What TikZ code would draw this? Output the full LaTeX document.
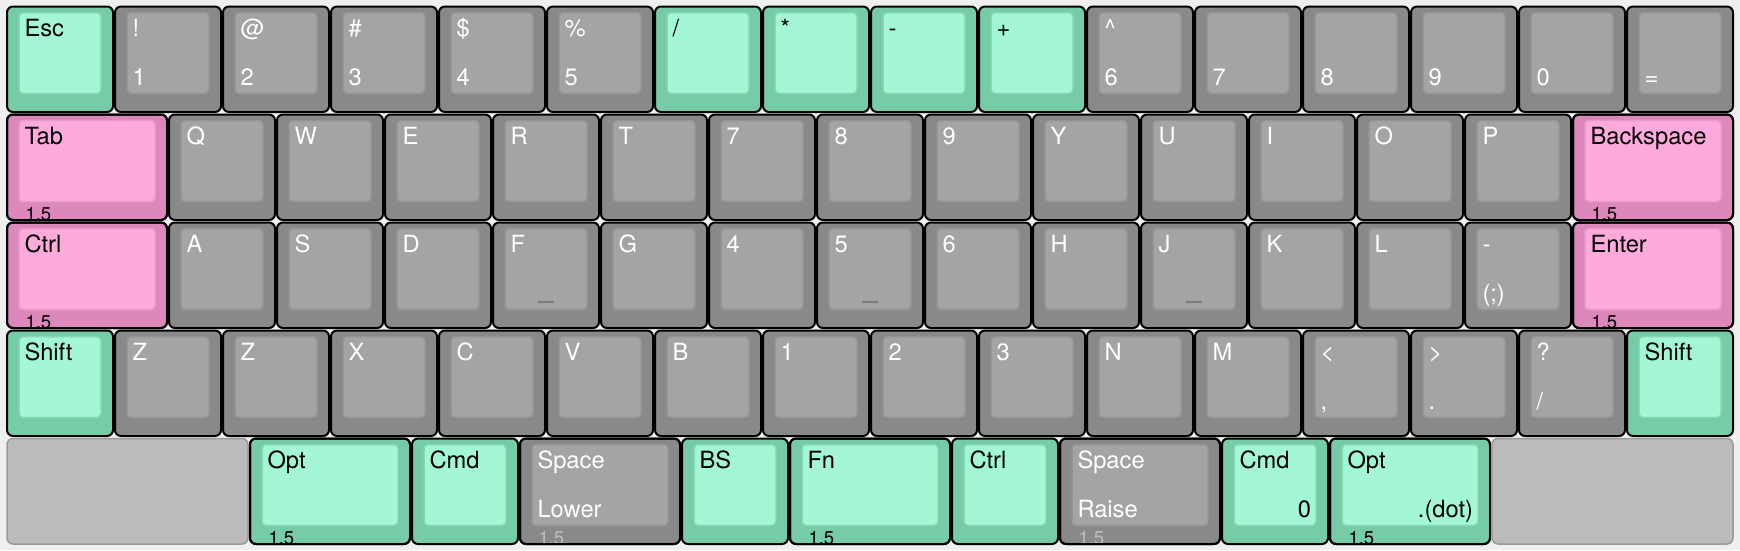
\documentclass[tikz,border=0pt]{standalone}
\usepackage{fontspec}
\setmainfont{TeX Gyre Heros}
\definecolor{bgc}{HTML}{EFEFEF}
\definecolor{gOut}{HTML}{77CCA8}
\definecolor{gIn}{HTML}{A3F7D5}
\definecolor{gLn}{HTML}{86D6B4}
\definecolor{pOut}{HTML}{DD88BB}
\definecolor{pIn}{HTML}{FFAADD}
\definecolor{pLn}{HTML}{E89CCB}
\definecolor{dOut}{HTML}{898989}
\definecolor{dIn}{HTML}{A4A4A4}
\definecolor{dLn}{HTML}{959595}
\definecolor{blankc}{HTML}{BBBBBB}
\definecolor{blankln}{HTML}{999999}
\definecolor{frontgray}{HTML}{BCBCBC}
\definecolor{homec}{HTML}{7A7A7A}
\tikzset{
  keyout/.style={draw=black, line width=2pt, rounded corners=6pt, anchor=north west, inner sep=0pt, outer sep=0pt, minimum height=105.5pt},
  outg/.style={keyout, fill=gOut},
  outp/.style={keyout, fill=pOut},
  outd/.style={keyout, fill=dOut},
  keyin/.style={line width=1.5pt, rounded corners=4pt, anchor=north west, inner sep=0pt, outer sep=0pt, minimum height=81pt},
  ing/.style={keyin, fill=gIn, draw=gLn},
  inp/.style={keyin, fill=pIn, draw=pLn},
  ind/.style={keyin, fill=dIn, draw=dLn},
  leg/.style={inner sep=0pt, outer sep=0pt, font=\fontsize{23.7}{28}\selectfont},
  legg/.style={leg, text=black},
  legp/.style={leg, text=black},
  legd/.style={leg, text=white},
  frontleg/.style={inner sep=0pt, outer sep=0pt, anchor=base west, font=\fontsize{18.5}{22}\selectfont},
  frontg/.style={frontleg, text=black},
  frontp/.style={frontleg, text=black},
  frontd/.style={frontleg, text=frontgray},
  blankkey/.style={draw=blankln, fill=blankc, line width=1.5pt, rounded corners=6pt, anchor=north west, inner sep=0pt, outer sep=0pt, minimum height=105.5pt},
  homebar/.style={draw=homec, line width=2.5pt},
  keyrim/.style={draw=black, line width=2pt, rounded corners=6pt}
}
% #1 name, #2 col, #3 row, #4 width (units), #5 style g/p/d, #6 top legend, #7 bottom legend
\newcommand\kk[7]{%
  \pgfmathsetmacro\kx{6+108*(#2)}%
  \pgfmathsetmacro\ky{6+108*(#3)}%
  \pgfmathsetmacro\kw{108*(#4)}%
  \node[out#5, minimum width={\kw-2}] (#1) at (\kx+1,\ky+0.5) {};
  \node[in#5, minimum width={\kw-26}] (#1i) at (\kx+13,\ky+6.5) {};
  \if\relax\detokenize{#6}\relax\else
    \node[leg#5, anchor=base west] (#1t) at (\kx+18.5,\ky+30.5) {#6};\fi
  \if\relax\detokenize{#7}\relax\else
    \node[leg#5, anchor=base west] (#1b) at (\kx+18.5,\ky+79) {#7};\fi
}
% front legend 1.5: #1 key name, #2 style
\newcommand\fr[2]{%
  \node[front#2] (#1f) at ([xshift=18.5pt]#1.south west) {1.5};
  \draw[keyrim] (#1.south west) rectangle (#1.north east);
}
% bottom-right legend: #1 key name, #2 style, #3 text
\newcommand\rl[3]{%
  \node[leg#2, anchor=base east] (#1r) at ([xshift=-17pt, yshift=27pt]#1.south east) {#3};
}
% homing bar
\newcommand\hm[1]{%
  \draw[homebar] ([xshift=-8pt, yshift=-79.5pt]#1.north) -- ([xshift=8pt, yshift=-79.5pt]#1.north);
}
% blank: #1 name, #2 col, #3 width
\newcommand\bk[3]{%
  \pgfmathsetmacro\kx{6+108*(#2)}%
  \pgfmathsetmacro\kw{108*(#3)}%
  \node[blankkey, minimum width={\kw-2}] (#1) at (\kx+1,438.5) {};
}
\begin{document}
\begin{tikzpicture}[x=1pt, y=-1pt]
\fill[bgc] (0,0) rectangle (1740,550);
\useasboundingbox (0,0) rectangle (1740,550);
% row 1
\kk{a0}{0}{0}{1}{g}{Esc}{}
\kk{a1}{1}{0}{1}{d}{!}{1}
\kk{a2}{2}{0}{1}{d}{@}{2}
\kk{a3}{3}{0}{1}{d}{\#}{3}
\kk{a4}{4}{0}{1}{d}{\$}{4}
\kk{a5}{5}{0}{1}{d}{\%}{5}
\kk{a6}{6}{0}{1}{g}{/}{}
\kk{a7}{7}{0}{1}{g}{*}{}
\kk{a8}{8}{0}{1}{g}{-}{}
\kk{a9}{9}{0}{1}{g}{+}{}
\kk{a10}{10}{0}{1}{d}{\textasciicircum}{6}
\kk{a11}{11}{0}{1}{d}{}{7}
\kk{a12}{12}{0}{1}{d}{}{8}
\kk{a13}{13}{0}{1}{d}{}{9}
\kk{a14}{14}{0}{1}{d}{}{0}
\kk{a15}{15}{0}{1}{d}{}{=}
% row 2
\kk{b0}{0}{1}{1.5}{p}{Tab}{}
\fr{b0}{p}
\foreach \l [count=\i from 1] in {Q,W,E,R,T,7,8,9,Y,U,I,O,P} {
  \kk{b\i}{0.5+\i}{1}{1}{d}{\l}{}
}
\kk{b14}{14.5}{1}{1.5}{p}{Backspace}{}
\fr{b14}{p}
% row 3
\kk{c0}{0}{2}{1.5}{p}{Ctrl}{}
\fr{c0}{p}
\foreach \l [count=\i from 1] in {A,S,D,F,G,4,5,6,H,J,K,L} {
  \kk{c\i}{0.5+\i}{2}{1}{d}{\l}{}
}
\kk{c13}{13.5}{2}{1}{d}{-}{(;)}
\kk{c14}{14.5}{2}{1.5}{p}{Enter}{}
\fr{c14}{p}
\hm{c4}
\hm{c7}
\hm{c10}
% row 4
\kk{d0}{0}{3}{1}{g}{Shift}{}
\foreach \l [count=\i from 1] in {Z,Z,X,C,V,B,1,2,3,N,M} {
  \kk{d\i}{\i}{3}{1}{d}{\l}{}
}
\kk{d12}{12}{3}{1}{d}{<}{,}
\kk{d13}{13}{3}{1}{d}{>}{.}
\kk{d14}{14}{3}{1}{d}{?}{/}
\kk{d15}{15}{3}{1}{g}{Shift}{}
% row 5
\bk{e0}{0}{2.25}
\kk{e1}{2.25}{4}{1.5}{g}{Opt}{}
\fr{e1}{g}
\kk{e2}{3.75}{4}{1}{g}{Cmd}{}
\kk{e3}{4.75}{4}{1.5}{d}{Space}{Lower}
\fr{e3}{d}
\kk{e4}{6.25}{4}{1}{g}{BS}{}
\kk{e5}{7.25}{4}{1.5}{g}{Fn}{}
\fr{e5}{g}
\kk{e6}{8.75}{4}{1}{g}{Ctrl}{}
\kk{e7}{9.75}{4}{1.5}{d}{Space}{Raise}
\fr{e7}{d}
\kk{e8}{11.25}{4}{1}{g}{Cmd}{}
\rl{e8}{g}{0}
\kk{e9}{12.25}{4}{1.5}{g}{Opt}{}
\rl{e9}{g}{.(dot)}
\fr{e9}{g}
\bk{e10}{13.75}{2.25}
\end{tikzpicture}
\end{document}
